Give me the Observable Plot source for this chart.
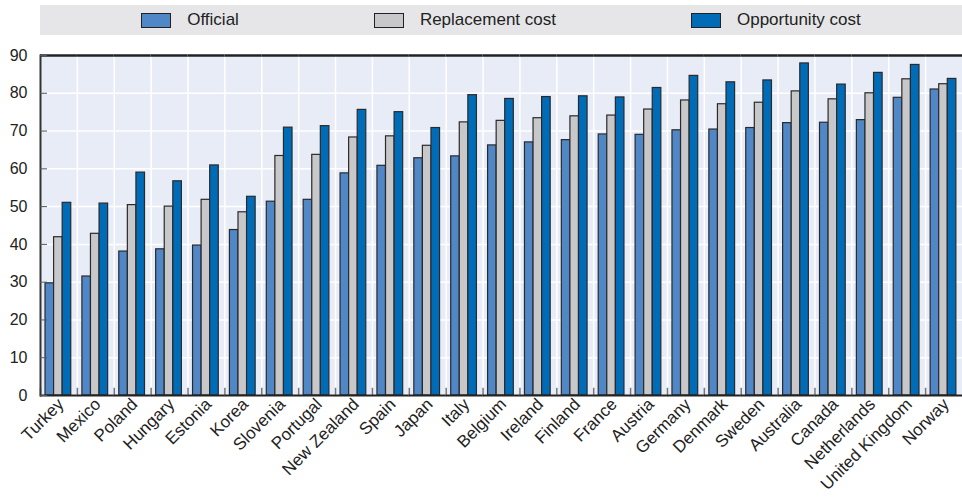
<!DOCTYPE html>
<html><head><meta charset="utf-8">
<script src="https://cdn.jsdelivr.net/npm/d3@7"></script>
<script src="https://cdn.jsdelivr.net/npm/@observablehq/plot@0.6"></script>
<style>
body{margin:0;background:#fff;font-family:"Liberation Sans",Arial,sans-serif;}
#legend{margin:5px 0 0 40px;width:922px;height:30px;background:#e6e6e8;display:flex;align-items:center;justify-content:center;gap:135px;font-size:17px;color:#222;}
.item{display:flex;align-items:center;gap:16px}
.sw{width:28px;height:13px;border:1px solid #222}
#chart svg{display:block}
</style></head>
<body>
<div id="legend"></div>
<div id="chart"></div>
<script>
const countries = ["Turkey","Mexico","Poland","Hungary","Estonia","Korea","Slovenia","Portugal","New Zealand","Spain","Japan","Italy","Belgium","Ireland","Finland","France","Austria","Germany","Denmark","Sweden","Australia","Canada","Netherlands","United Kingdom","Norway"];
const series = ["Official","Replacement cost","Opportunity cost"];
const official = [29.7,31.5,38.1,38.7,39.7,43.8,51.3,51.8,58.8,60.8,62.8,63.3,66.2,67.0,67.6,69.1,69.0,70.2,70.4,70.8,72.1,72.2,72.9,78.8,81.0];
const replacement = [41.9,42.8,50.4,50.0,51.8,48.5,63.4,63.7,68.3,68.6,66.1,72.3,72.7,73.4,73.9,74.1,75.7,78.1,77.1,77.5,80.5,78.4,80.0,83.7,82.4];
const opportunity = [51.0,50.8,59.0,56.7,60.9,52.6,70.9,71.3,75.6,75.0,70.8,79.5,78.5,79.0,79.2,78.9,81.4,84.6,82.9,83.4,87.9,82.3,85.4,87.5,83.8];
const yTicks = [0,10,20,30,40,50,60,70,80,90];
const colors = ["#4f87c7","#c8c8ca","#006cb7"];

const valuesBySeries = [official, replacement, opportunity];
const data = [];
countries.forEach((c, i) => series.forEach((s, j) => data.push({country: c, series: s, value: valuesBySeries[j][i]})));

const lg = document.getElementById("legend");
series.forEach((s, j) => {
  const it = document.createElement("div"); it.className = "item";
  const sw = document.createElement("div"); sw.className = "sw"; sw.style.background = colors[j];
  const tx = document.createElement("span"); tx.textContent = s;
  it.append(sw, tx); lg.append(it);
});

const font = '"Liberation Sans",Arial,sans-serif';
const chart = Plot.plot({
  width: 962, height: 467,
  marginTop: 20, marginBottom: 107, marginLeft: 40, marginRight: 0,
  style: {fontFamily: font, fontSize: "17px", color: "#222", background: "#fff"},
  fx: {domain: countries, padding: 0, round: false, label: null},
  x: {domain: series, paddingInner: 0, paddingOuter: 0.65, align: 0.45, round: false, axis: null},
  y: {domain: [0, 90], label: null},
  color: {domain: series, range: colors},
  marks: [
    Plot.frame({fill: "#e8ecf6"}),
    Plot.gridY(yTicks, {stroke: "#fff", strokeOpacity: 1, strokeWidth: 1.5}),
    Plot.frame({anchor: "left", stroke: "#fff", strokeWidth: 1.5}),
    Plot.frame({anchor: "left", stroke: "#777", strokeWidth: 1.5, insetTop: 333}),
    Plot.barY(data, {fx: "country", x: "series", y: "value", fill: "series", stroke: "#2a2a2a", strokeWidth: 1.2}),
    Plot.ruleY([90], {stroke: "#222", strokeWidth: 2.5}),
    Plot.ruleY([0], {stroke: "#222", strokeWidth: 2}),
    Plot.frame({anchor: "left", facet: "super", stroke: "#333", strokeWidth: 2}),
    Plot.axisY(yTicks, {tickSize: 0, tickPadding: 13, fontSize: 16, label: null}),
    Plot.axisY(yTicks, {tickSize: 7, dx: 7, text: null, stroke: "#555", label: null}),
    Plot.axisFx({anchor: "bottom", tickRotate: -45, tickSize: 0, tickPadding: 6, dx: 2, fontSize: 17, label: null})
  ]
});
document.getElementById("chart").append(chart);
</script>
</body></html>
